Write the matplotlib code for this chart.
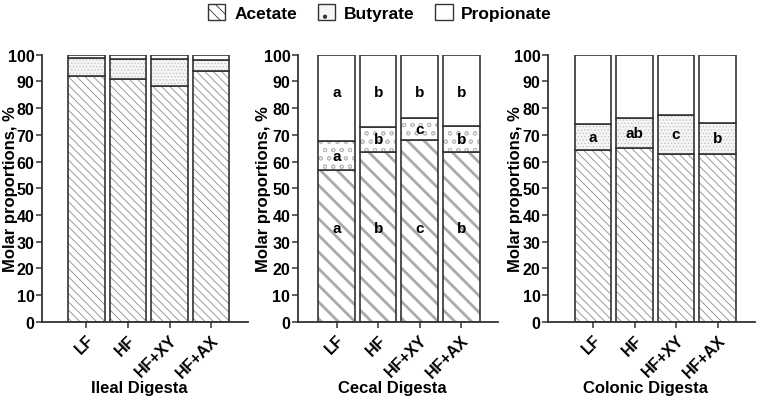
import numpy as np
import matplotlib
matplotlib.use('Agg')
import matplotlib.pyplot as plt
from matplotlib.patches import Patch

plt.rcParams['font.family'] = ['Liberation Sans', 'DejaVu Sans']
plt.rcParams['font.weight'] = 'bold'

groups = ['LF', 'HF', 'HF+XY', 'HF+AX']

ileal_acetate = [91.9, 90.9, 88.4, 94.0]
ileal_butyrate = [6.9, 7.6, 10.1, 4.2]

cecal_acetate = [56.8, 63.7, 67.9, 63.7]
cecal_butyrate = [10.8, 9.4, 8.5, 9.6]
cecal_acetate_letters = ['a', 'b', 'c', 'b']
cecal_butyrate_letters = ['a', 'b', 'c', 'b']
cecal_propionate_letters = ['a', 'b', 'b', 'b']

colonic_acetate = [64.3, 65.2, 63.0, 63.0]
colonic_butyrate = [9.8, 11.2, 14.3, 11.3]
colonic_butyrate_letters = ['a', 'ab', 'c', 'b']

titles = ['Ileal Digesta', 'Cecal Digesta', 'Colonic Digesta']

EDGE = '#333333'

fig = plt.figure(figsize=(7.6, 4.1), dpi=100)
axes = [fig.add_axes([0.0553, 0.2129, 0.271, 0.6512]),
        fig.add_axes([0.3921, 0.2129, 0.2632, 0.6512]),
        fig.add_axes([0.7211, 0.2129, 0.2724, 0.6512])]
xlims = [(-1.07, 3.89), (-0.93, 3.885), (-1.08, 3.9)]
ylab_x = [-0.117, -0.135, -0.12]


def hatched(ax, x, h, bottom, hatch, hcolor, hlw, face='white'):
    bars = ax.bar(x, h, 0.88, bottom=bottom, color=face, edgecolor=hcolor,
                  hatch=hatch, linewidth=0)
    for b in bars:
        if hasattr(b, 'set_hatch_linewidth'):
            b.set_hatch_linewidth(hlw)
    ax.bar(x, h, 0.88, bottom=bottom, fill=False, edgecolor=EDGE, linewidth=1.2)


panels = [(ileal_acetate, ileal_butyrate), (cecal_acetate, cecal_butyrate),
          (colonic_acetate, colonic_butyrate)]

x = np.arange(len(groups))
for i, (ax, (ac, bu)) in enumerate(zip(axes, panels)):
    ac = np.array(ac)
    bu = np.array(bu)
    pr = 100 - ac - bu
    if i == 1:
        plt.rcParams['hatch.linewidth'] = 2.0
        hatched(ax, x, ac, 0, '\\\\', '#aaaaaa', 2.0)
        plt.rcParams['hatch.linewidth'] = 0.7
        hatched(ax, x, bu, ac, 'oo', '#bcbcbc', 0.7)
    else:
        plt.rcParams['hatch.linewidth'] = 0.6
        hatched(ax, x, ac, 0, '\\\\\\\\', '#8a8a8a', 0.6)
        hatched(ax, x, bu, ac, '.....', '#c4c4c4', 0.6, face='#f6f6f6')
    hatched(ax, x, pr, ac + bu, None, EDGE, 0.6)

    ax.set_ylim(0, 100)
    ax.set_xlim(*xlims[i])
    ax.set_yticks(range(0, 101, 10))
    ax.set_xticks(x)
    ax.set_xticklabels(groups, rotation=45, ha='right', va='top',
                       rotation_mode='anchor', fontsize=11.5, fontweight='bold')
    ax.tick_params(axis='y', labelsize=11.5, length=4.5, width=1.1, color=EDGE, pad=1)
    ax.tick_params(axis='x', length=4.5, width=1.1, color=EDGE, pad=3)
    for lab in ax.get_yticklabels():
        lab.set_fontweight('bold')
    for s in ['top', 'right']:
        ax.spines[s].set_visible(False)
    for s in ['left', 'bottom']:
        ax.spines[s].set_color(EDGE)
        ax.spines[s].set_linewidth(1.3)
    ax.set_ylabel('Molar proportions, %', fontsize=12, fontweight='bold')
    ax.yaxis.set_label_coords(ylab_x[i], 0.5)
    ax.text(0.47, -0.245, titles[i], transform=ax.transAxes, ha='center', va='center',
            fontsize=12, fontweight='bold')

# significance letters
ax = axes[1]
ac = np.array(cecal_acetate)
bu = np.array(cecal_butyrate)
for j in range(len(groups)):
    ax.text(x[j], 35, cecal_acetate_letters[j], ha='center', va='center', fontsize=11, fontweight='bold')
    ax.text(x[j], ac[j] + bu[j] / 2, cecal_butyrate_letters[j], ha='center', va='center', fontsize=11, fontweight='bold')
    ax.text(x[j], 86, cecal_propionate_letters[j], ha='center', va='center', fontsize=11, fontweight='bold')
ax = axes[2]
ac = np.array(colonic_acetate)
bu = np.array(colonic_butyrate)
for j in range(len(groups)):
    ax.text(x[j], ac[j] + bu[j] / 2, colonic_butyrate_letters[j], ha='center', va='center', fontsize=11, fontweight='bold')

plt.rcParams['hatch.linewidth'] = 0.6
handles = [Patch(facecolor='white', edgecolor=EDGE, hatch='\\\\\\', linewidth=1),
           Patch(facecolor='#f6f6f6', edgecolor=EDGE, hatch='.', linewidth=1),
           Patch(facecolor='white', edgecolor=EDGE, linewidth=1)]
fig.legend(handles, ['Acetate', 'Butyrate', 'Propionate'], loc='center', bbox_to_anchor=(0.5, 0.967),
           ncol=3, frameon=False, prop={'size': 12.5, 'weight': 'bold'},
           handlelength=1.0, handleheight=1.0, handletextpad=0.5, columnspacing=1.2)

fig.savefig('out.png', dpi=100)
